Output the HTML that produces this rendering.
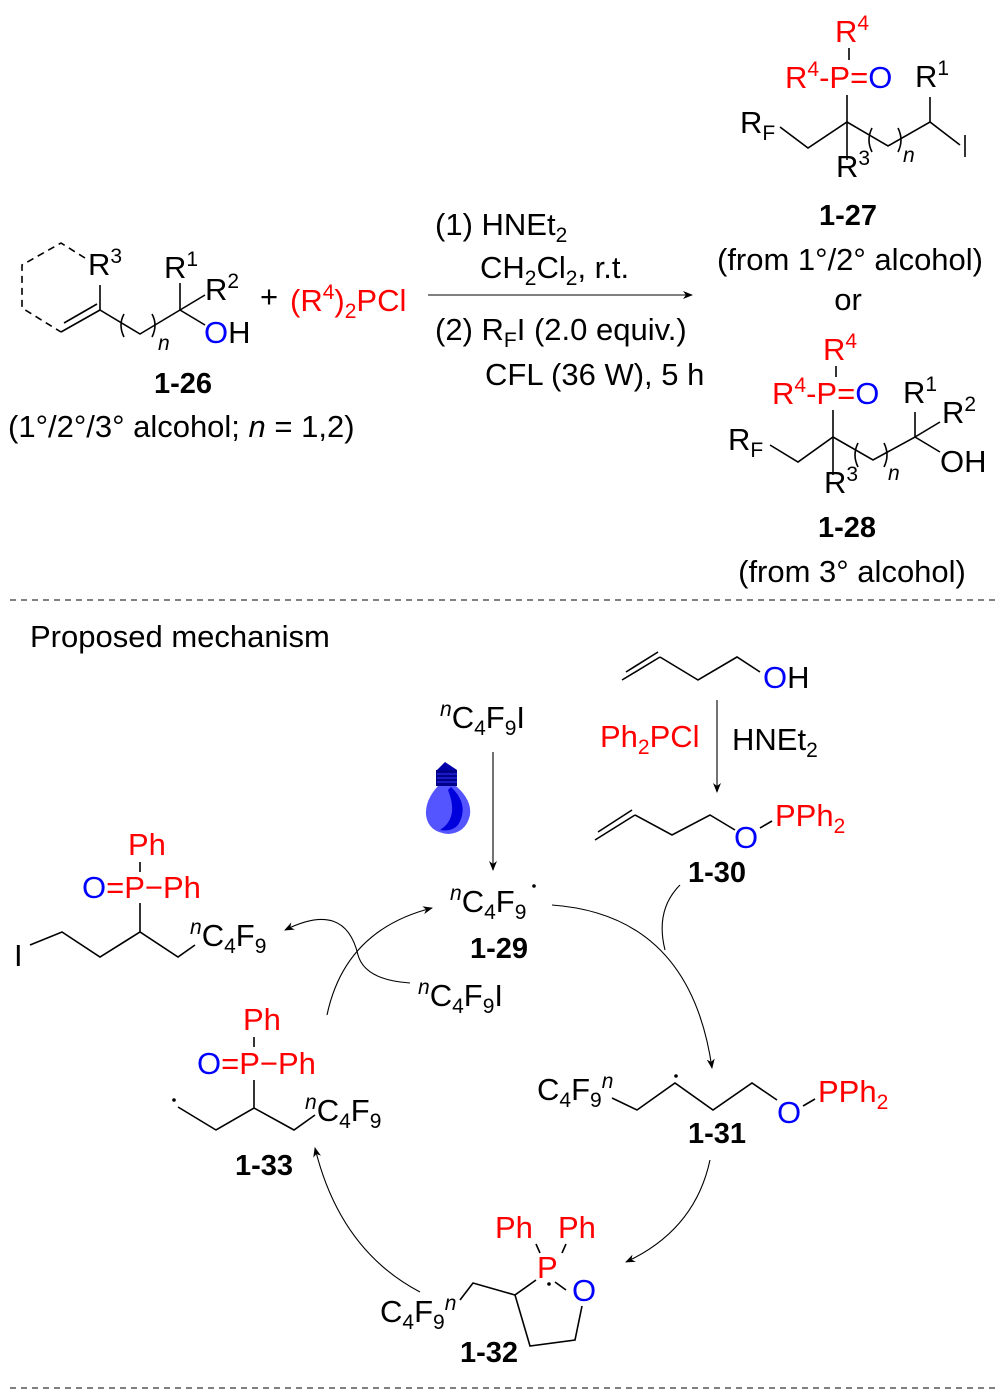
<!DOCTYPE html>
<html><head><meta charset="utf-8"><style>
html,body{margin:0;padding:0;background:#fff}
svg{display:block}
text{font-family:"Liberation Sans",sans-serif;font-size:31px;fill:#000}
.r{fill:#f00}.b{fill:#00f}.bd{font-weight:bold;font-size:29px}
.s{font-size:21px}
line,path,polyline{stroke:#000;stroke-width:1.6;fill:none}
.t{stroke-width:1.1}
</style></head><body>
<svg width="1002" height="1398" viewBox="0 0 1002 1398">
<defs><marker id="a" markerWidth="10" markerHeight="8" refX="9" refY="4" orient="auto" markerUnits="userSpaceOnUse"><path d="M0,0 L10,4 L0,8 L3,4Z" style="fill:#000;stroke:none"/></marker></defs>

<!-- 1-26 -->
<polyline points="85,258 61,243 22,265 22,308 61,332" stroke-dasharray="7,5"/>
<line x1="61" y1="332" x2="100" y2="310"/><line x1="64" y1="323" x2="97" y2="304"/>
<line x1="100" y1="310" x2="100" y2="285"/>
<polyline points="100,310 140,334 180,310"/>
<path d="M124,314 Q118,325 124,337"/>
<path d="M152,314 Q158,325 152,337"/>
<line x1="180" y1="310" x2="180" y2="283"/>
<line x1="180" y1="310" x2="205" y2="295"/>
<line x1="180" y1="310" x2="205" y2="325"/>
<text x="88" y="275">R<tspan class="s" dy="-12">3</tspan></text>
<text x="164" y="278">R<tspan class="s" dy="-12">1</tspan></text>
<text x="205" y="300">R<tspan class="s" dy="-12">2</tspan></text>
<text x="204" y="343"><tspan class="b">O</tspan>H</text>
<text x="158" y="350" class="s" font-style="italic">n</text>
<text x="260" y="307">+</text>
<text x="290" y="311" class="r">(R<tspan class="s" dy="-12">4</tspan><tspan dy="12">)</tspan><tspan class="s" dy="7">2</tspan><tspan dy="-7">PCl</tspan></text>
<text x="183" y="393" class="bd" text-anchor="middle">1-26</text>
<text x="8" y="437">(1°/2°/3° alcohol; <tspan font-style="italic">n</tspan> = 1,2)</text>

<!-- arrow -->
<line x1="428" y1="295" x2="692" y2="295" marker-end="url(#a)" class="t"/>
<text x="435" y="235">(1) HNEt<tspan class="s" dy="7">2</tspan></text>
<text x="480" y="278">CH<tspan class="s" dy="7">2</tspan><tspan dy="-7">Cl</tspan><tspan class="s" dy="7">2</tspan><tspan dy="-7">, r.t.</tspan></text>
<text x="435" y="340">(2) R<tspan class="s" dy="7">F</tspan><tspan dy="-7">I (2.0 equiv.)</tspan></text>
<text x="485" y="385">CFL (36 W), 5 h</text>

<!-- 1-27 -->
<text x="835" y="42" class="r">R<tspan class="s" dy="-12">4</tspan></text>
<line x1="849" y1="48" x2="849" y2="60" stroke="#f00"/>
<text x="785" y="88" class="r">R<tspan class="s" dy="-12">4</tspan><tspan dy="12">-P=</tspan><tspan class="b">O</tspan></text>
<text x="915" y="87">R<tspan class="s" dy="-12">1</tspan></text>
<line x1="847" y1="95" x2="847" y2="160"/>
<text x="740" y="133">R<tspan class="s" dy="7">F</tspan></text>
<polyline points="780,127 808,148 847,122 888,146 930,122 960,145"/>
<path d="M872,128 Q866,140 872,152"/><path d="M898,128 Q904,140 898,152"/>
<line x1="930" y1="97" x2="930" y2="122"/>
<line x1="965" y1="135" x2="965" y2="157"/>
<text x="836" y="177">R<tspan class="s" dy="-12">3</tspan></text>
<text x="903" y="162" class="s" font-style="italic">n</text>
<text x="848" y="225" class="bd" text-anchor="middle">1-27</text>
<text x="850" y="270" text-anchor="middle">(from 1°/2° alcohol)</text>
<text x="848" y="310" text-anchor="middle">or</text>

<!-- 1-28 -->
<text x="823" y="360" class="r">R<tspan class="s" dy="-12">4</tspan></text>
<line x1="836" y1="366" x2="836" y2="377" stroke="#f00"/>
<text x="772" y="404" class="r">R<tspan class="s" dy="-12">4</tspan><tspan dy="12">-P=</tspan><tspan class="b">O</tspan></text>
<text x="903" y="403">R<tspan class="s" dy="-12">1</tspan></text>
<text x="942" y="423">R<tspan class="s" dy="-12">2</tspan></text>
<line x1="833" y1="410" x2="833" y2="475"/>
<text x="728" y="450">R<tspan class="s" dy="7">F</tspan></text>
<polyline points="770,445 798,462 833,437 873,460 915,437 940,452"/>
<path d="M858,443 Q852,455 858,467"/><path d="M884,443 Q890,455 884,467"/>
<line x1="915" y1="437" x2="915" y2="412"/>
<line x1="915" y1="437" x2="940" y2="422"/>
<text x="940" y="472">OH</text>
<text x="824" y="493">R<tspan class="s" dy="-12">3</tspan></text>
<text x="888" y="480" class="s" font-style="italic">n</text>
<text x="847" y="537" class="bd" text-anchor="middle">1-28</text>
<text x="852" y="582" text-anchor="middle">(from 3° alcohol)</text>

<line x1="10" y1="600" x2="995" y2="600" stroke-dasharray="6,5" class="t"/>
<line x1="10" y1="1388" x2="995" y2="1388" stroke-dasharray="6,5" class="t"/>

<text x="30" y="647">Proposed mechanism</text>

<!-- butenol -->
<line x1="622" y1="680" x2="660" y2="657"/><line x1="626" y1="672" x2="658" y2="652"/>
<polyline points="660,657 698,680 737,657 760,672"/>
<text x="763" y="688"><tspan class="b">O</tspan>H</text>
<line x1="717" y1="700" x2="717" y2="792" marker-end="url(#a)" class="t"/>
<text x="600" y="747" class="r">Ph<tspan class="s" dy="7">2</tspan><tspan dy="-7">PCl</tspan></text>
<text x="732" y="750">HNEt<tspan class="s" dy="7">2</tspan></text>

<!-- 1-30 -->
<line x1="595" y1="840" x2="635" y2="815"/><line x1="598" y1="832" x2="632" y2="810"/>
<polyline points="635,815 672,835 710,815 735,830"/>
<text x="734" y="848" class="b">O</text>
<line x1="760" y1="828" x2="772" y2="821"/>
<text x="775" y="826" class="r">PPh<tspan class="s" dy="7">2</tspan></text>
<text x="688" y="882" class="bd">1-30</text>

<!-- C4F9I + bulb -->
<text x="440" y="728"><tspan class="s" dy="-12" font-style="italic">n</tspan><tspan dy="12">C</tspan><tspan class="s" dy="7">4</tspan><tspan dy="-7">F</tspan><tspan class="s" dy="7">9</tspan><tspan dy="-7">I</tspan></text>
<line x1="493" y1="752" x2="493" y2="870" marker-end="url(#a)" class="t"/>
<path d="M445,762 L437,770 L457,770 Z" style="fill:#00a;stroke:none"/>
<rect x="436" y="770" width="21" height="16" style="fill:#008;stroke:none"/>
<path d="M437,774h20M437,778h20M437,782h20" style="stroke:#33f;stroke-width:1;fill:none"/>
<path d="M438,786 L456,786 Q472,800 470,815 Q466,833 448,834 Q428,832 426,815 Q425,800 438,786Z" style="fill:#5555ff;stroke:none"/>
<path d="M451,787 Q470,805 458,825 Q452,832 440,830 L444,827 Q458,815 448,790Z" style="fill:#0000dd;stroke:none"/>

<!-- 1-29 -->
<text x="450" y="912"><tspan class="s" dy="-12" font-style="italic">n</tspan><tspan dy="12">C</tspan><tspan class="s" dy="7">4</tspan><tspan dy="-7">F</tspan><tspan class="s" dy="7">9</tspan></text>
<circle cx="534" cy="886" r="1.8" style="fill:#000;stroke:none"/>
<text x="470" y="958" class="bd">1-29</text>

<!-- left product -->
<text x="128" y="855" class="r">Ph</text>
<line x1="140" y1="862" x2="140" y2="872" stroke="#f00"/>
<text x="82" y="898"><tspan class="b">O</tspan><tspan class="r">=P−Ph</tspan></text>
<line x1="140" y1="903" x2="140" y2="932"/>
<text x="14" y="966">I</text>
<polyline points="30,945 62,932 100,957 140,932 178,957 195,945"/>
<text x="190" y="946"><tspan class="s" dy="-12" font-style="italic">n</tspan><tspan dy="12">C</tspan><tspan class="s" dy="7">4</tspan><tspan dy="-7">F</tspan><tspan class="s" dy="7">9</tspan></text>

<path d="M410,983 Q365,980 358,955 Q345,900 285,930" marker-end="url(#a)" class="t"/>
<text x="418" y="1006"><tspan class="s" dy="-12" font-style="italic">n</tspan><tspan dy="12">C</tspan><tspan class="s" dy="7">4</tspan><tspan dy="-7">F</tspan><tspan class="s" dy="7">9</tspan><tspan dy="-7">I</tspan></text>

<!-- cycle arcs -->
<path d="M327,1015 Q345,930 432,908" marker-end="url(#a)" class="t"/>
<path d="M552,905 Q690,915 712,1068" marker-end="url(#a)" class="t"/>
<path d="M680,885 Q655,910 665,950" class="t"/>
<path d="M710,1160 Q695,1230 626,1262" marker-end="url(#a)" class="t"/>
<path d="M420,1292 Q340,1250 315,1148" marker-end="url(#a)" class="t"/>

<!-- 1-31 -->
<text x="537" y="1100">C<tspan class="s" dy="7">4</tspan><tspan dy="-7">F</tspan><tspan class="s" dy="7">9</tspan><tspan class="s" dy="-19" font-style="italic">n</tspan></text>
<polyline points="612,1098 637,1110 675,1083 713,1110 752,1083 777,1100"/>
<circle cx="676" cy="1076" r="1.8" style="fill:#000;stroke:none"/>
<text x="777" y="1123" class="b">O</text>
<line x1="803" y1="1106" x2="815" y2="1099"/>
<text x="818" y="1102" class="r">PPh<tspan class="s" dy="7">2</tspan></text>
<text x="688" y="1143" class="bd">1-31</text>

<!-- 1-33 -->
<text x="243" y="1030" class="r">Ph</text>
<line x1="254" y1="1037" x2="254" y2="1047" stroke="#f00"/>
<text x="197" y="1074"><tspan class="b">O</tspan><tspan class="r">=P−Ph</tspan></text>
<line x1="254" y1="1080" x2="254" y2="1108"/>
<circle cx="174" cy="1100" r="1.8" style="fill:#000;stroke:none"/>
<polyline points="178,1107 216,1130 254,1108 294,1130 315,1115"/>
<text x="305" y="1121"><tspan class="s" dy="-12" font-style="italic">n</tspan><tspan dy="12">C</tspan><tspan class="s" dy="7">4</tspan><tspan dy="-7">F</tspan><tspan class="s" dy="7">9</tspan></text>
<text x="235" y="1175" class="bd">1-33</text>

<!-- 1-32 -->
<text x="495" y="1238" class="r">Ph</text>
<text x="558" y="1238" class="r">Ph</text>
<line x1="536" y1="1244" x2="540" y2="1253" stroke="#f00"/>
<line x1="566" y1="1244" x2="562" y2="1253" stroke="#f00"/>
<text x="537" y="1278" class="r">P</text>
<circle cx="549" cy="1284" r="1.8" style="fill:#000;stroke:none"/>
<text x="572" y="1301" class="b">O</text>
<line x1="555" y1="1282" x2="566" y2="1290"/>
<polyline points="536,1280 515,1295 530,1346 575,1340 582,1306"/>
<polyline points="515,1295 473,1283 460,1300"/>
<text x="380" y="1322">C<tspan class="s" dy="7">4</tspan><tspan dy="-7">F</tspan><tspan class="s" dy="7">9</tspan><tspan class="s" dy="-19" font-style="italic">n</tspan></text>
<text x="460" y="1362" class="bd">1-32</text>
</svg>
</body></html>
